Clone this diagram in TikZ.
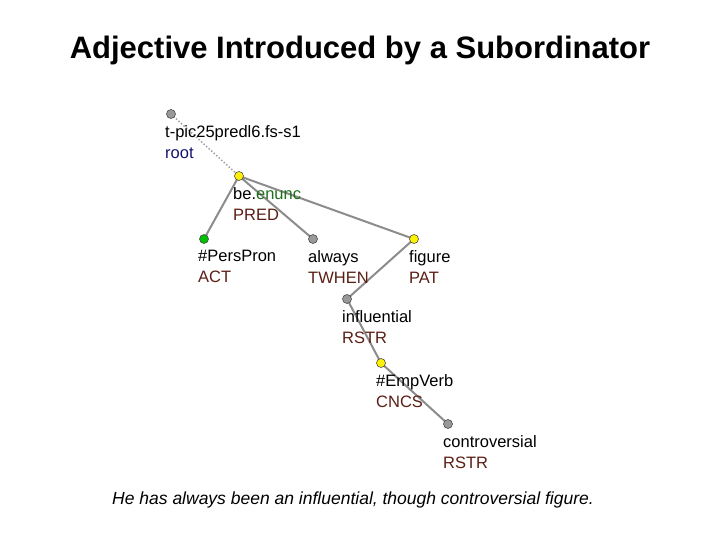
\documentclass[tikz,border=0pt]{standalone}
\usepackage{fontspec}
\setmainfont{Liberation Sans}
\begin{document}
\begin{tikzpicture}[x=1pt,y=-1pt,
  dot/.style={circle,draw=black!70,line width=0.6pt,inner sep=0pt,minimum size=9pt},
  edge/.style={draw=black!45,line width=2pt},
  lbl/.style={anchor=north west,inner sep=0pt,font=\fontsize{16.5}{21}\selectfont,align=left}]
\useasboundingbox (0,0) rectangle (720,540);
\node[font=\fontsize{31}{34}\selectfont\bfseries] (title) at (360,50) {Adjective Introduced by a Subordinator};
\coordinate (r) at (171,114);
\coordinate (p) at (239,176);
\coordinate (a) at (204,239);
\coordinate (al) at (313,239);
\coordinate (f) at (414,239);
\coordinate (i) at (347,299);
\coordinate (e) at (381,363);
\coordinate (c) at (448,424);
\draw[black!40,dotted,line width=1.4pt] (r) -- (p);
\draw[edge] (p) -- (a);
\draw[edge] (p) -- (al);
\draw[edge] (p) -- (f);
\draw[edge] (f) -- (i);
\draw[edge] (i) -- (e);
\draw[edge] (e) -- (c);
\node[dot,fill=black!40] (nr) at (r) {};
\node[dot,fill=yellow] (np) at (p) {};
\node[dot,fill=green!75!black] (na) at (a) {};
\node[dot,fill=black!40] (nal) at (al) {};
\node[dot,fill=yellow] (nf) at (f) {};
\node[dot,fill=black!40] (ni) at (i) {};
\node[dot,fill=yellow] (ne) at (e) {};
\node[dot,fill=black!40] (nc) at (c) {};
\definecolor{fn}{RGB}{90,30,20}
\definecolor{bl}{RGB}{20,20,110}
\definecolor{gr}{RGB}{30,110,30}
\node[lbl] (lr) at (165,125) {t-pic25predl6.fs-s1\\\textcolor{bl}{root}};
\node[lbl] (lp) at (233,187) {be.\textcolor{gr}{enunc}\\\textcolor{fn}{PRED}};
\node[lbl] (la) at (198,250) {\#PersPron\\\textcolor{fn}{ACT}};
\node[lbl] (lal) at (308,250) {always\\\textcolor{fn}{TWHEN}};
\node[lbl] (lf) at (409,250) {figure\\\textcolor{fn}{PAT}};
\node[lbl] (li) at (342,310) {influential\\\textcolor{fn}{RSTR}};
\node[lbl] (le) at (376,374) {\#EmpVerb\\\textcolor{fn}{CNCS}};
\node[lbl] (lc) at (443,435) {controversial\\\textcolor{fn}{RSTR}};
\node[font=\fontsize{17.5}{20}\selectfont\itshape] (cap) at (353,500) {He has always been an influential, though controversial figure.};
\end{tikzpicture}
\end{document}
